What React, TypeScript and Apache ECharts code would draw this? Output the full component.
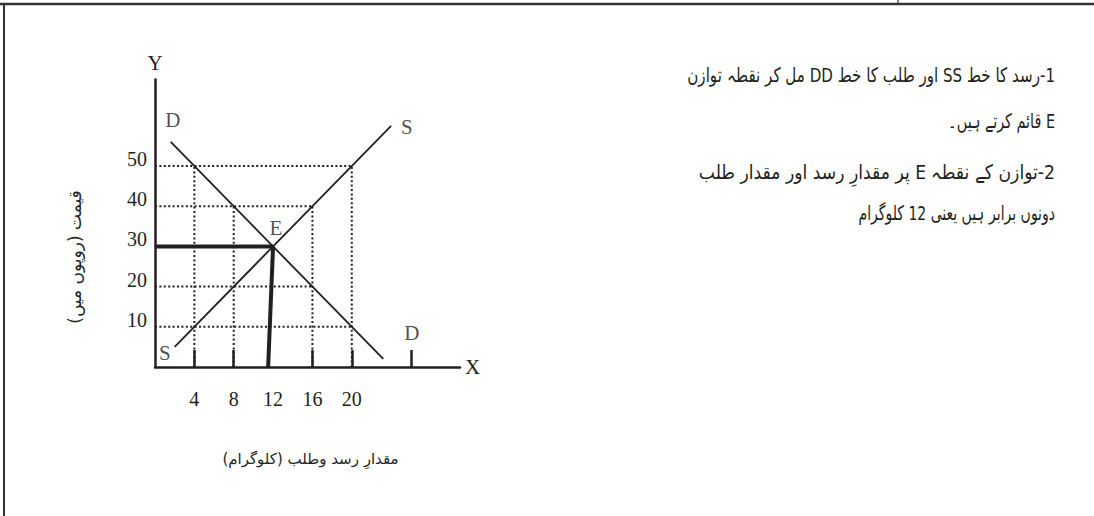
import React, { useEffect, useRef } from 'react';
import * as echarts from 'echarts';

// ---- data ----
const xTickLabels = [4, 8, 12, 16, 20];
const xTickMarks = [4, 8, 16, 20, 26];
const yTickLabels = [10, 20, 30, 40, 50];
const supplyLine = [[2, 5], [24, 60]];
const demandLine = [[1.6, 56], [23.2, 2]];
const priceLine = [[0, 30], [12, 30]];
const quantityLine = [[12, 30], [11.5, 0]];
const dottedSegments = [
  [[0, 50], [20, 50]],
  [[0, 40], [16, 40]],
  [[0, 20], [16, 20]],
  [[0, 10], [20, 10]],
  [[4, 0], [4, 50]],
  [[8, 0], [8, 40]],
  [[16, 0], [16, 40]],
  [[20, 0], [20, 50]],
];
const curveLabels = [
  { name: 'D', value: [1.8, 61.5] },
  { name: 'S', value: [25.6, 59.7] },
  { name: 'S', value: [1.0, 3.5] },
  { name: 'D', value: [26.1, 8.5] },
  { name: 'E', value: [12.3, 34.6] },
];
const notes = [
  '1-رسد کا خط SS اور طلب کا خط DD مل کر نقطہ توازن',
  'E قائم کرتے ہیں۔',
  '2-توازن کے نقطہ E پر مقدارِ رسد اور مقدار طلب',
  'دونوں برابر ہیں یعنی 12 کلوگرام',
];
const xTitle = 'مقدارِ رسد وطلب (کلوگرام)';
const yTitle = 'قیمت (روپوں میں)';

// ---- styles ----
const INK = '#231f20';
const SERIF = "'Liberation Serif', 'DejaVu Serif', serif";
const URDU = "'DejaVu Sans', sans-serif";
const rtl = (s: string) => '\u202B' + s + '\u202C';
const noteY = [75, 121, 172, 213];
const noteScale = [0.755, 0.72, 0.86, 0.7];

export default function App() {
  const ref = useRef<HTMLDivElement>(null);
  useEffect(() => {
    if (!ref.current) return;
    const chart = echarts.init(ref.current, null, { renderer: 'svg' });
    const lineSeries = (data: number[][], width: number, type: any = 'solid') => ({
      type: 'line',
      data,
      symbol: 'none',
      silent: true,
      clip: false,
      lineStyle: { color: INK, width, type },
      z: 3,
    });
    chart.setOption({
      animation: false,
      backgroundColor: '#ffffff',
      grid: { left: 155, top: 79.6, width: 305, height: 287.4 },
      xAxis: [
        {
          type: 'value',
          min: 0,
          max: 31,
          name: rtl(xTitle),
          nameLocation: 'middle',
          nameGap: 84,
          nameTextStyle: { fontFamily: URDU, fontSize: 15, color: INK, padding: [0, 0, 0, 6] },
          axisLine: { show: true, onZero: false, lineStyle: { color: INK, width: 2.5 } },
          axisTick: {
            show: true,
            inside: true,
            length: 17,
            customValues: xTickMarks,
            lineStyle: { color: INK, width: 2.5 },
          },
          axisLabel: {
            show: true,
            customValues: xTickLabels,
            margin: 22,
            fontFamily: SERIF,
            fontSize: 20,
            color: INK,
          },
          splitLine: { show: false },
        },
        {
          type: 'value',
          min: 0,
          max: 31,
          position: 'bottom',
          name: 'X',
          nameLocation: 'end',
          nameGap: 5,
          nameTextStyle: { fontFamily: SERIF, fontSize: 21, color: INK },
          axisLine: { show: false },
          axisTick: { show: false },
          axisLabel: { show: false },
          splitLine: { show: false },
        },
      ],
      yAxis: [
        {
          type: 'value',
          min: 0,
          max: 71.5,
          axisLine: { show: true, onZero: false, lineStyle: { color: INK, width: 2.5 } },
          axisTick: { show: false },
          axisLabel: {
            show: true,
            customValues: yTickLabels,
            margin: 8,
            verticalAlign: 'bottom',
            lineHeight: 14,
            fontFamily: SERIF,
            fontSize: 20,
            color: INK,
          },
          splitLine: { show: false },
        },
        {
          type: 'value',
          min: 0,
          max: 71.5,
          position: 'left',
          name: 'Y',
          nameLocation: 'end',
          nameGap: 6,
          nameTextStyle: { fontFamily: SERIF, fontSize: 21, color: INK },
          axisLine: { show: false },
          axisTick: { show: false },
          axisLabel: { show: false },
          splitLine: { show: false },
        },
      ],
      series: [
        ...dottedSegments.map((seg) => lineSeries(seg, 2, [2, 2.4])),
        lineSeries(supplyLine, 1.8),
        lineSeries(demandLine, 1.8),
        lineSeries(priceLine, 4),
        lineSeries(quantityLine, 4),
        {
          type: 'scatter',
          data: curveLabels,
          symbolSize: 0,
          clip: false,
          silent: true,
          label: {
            show: true,
            position: 'inside',
            formatter: '{b}',
            fontFamily: SERIF,
            fontSize: 21,
            color: INK,
          },
          z: 5,
        },
      ],
      graphic: [
        { type: 'line', shape: { x1: 0, y1: 4, x2: 1094, y2: 4 }, style: { stroke: '#333', lineWidth: 2.5 } },
        { type: 'line', shape: { x1: 4, y1: 4, x2: 4, y2: 516 }, style: { stroke: '#333', lineWidth: 2 } },
        { type: 'line', shape: { x1: 898, y1: 0, x2: 898, y2: 3 }, style: { stroke: '#333', lineWidth: 1.2 } },
        {
          type: 'text',
          x: 75,
          y: 257,
          rotation: Math.PI / 2,
          style: {
            text: rtl(yTitle),
            align: 'center',
            verticalAlign: 'middle',
            fontFamily: URDU,
            fontSize: 17,
            fill: INK,
          },
        },
        ...notes.map((t, i) => ({
          type: 'text',
          x: 1055,
          y: noteY[i],
          scaleX: noteScale[i],
          style: {
            text: rtl(t),
            align: 'right',
            verticalAlign: 'middle',
            fontFamily: URDU,
            fontSize: 20,
            fill: INK,
          },
        })),
      ],
    });
    return () => chart.dispose();
  }, []);
  return (
    <div
      ref={ref}
      style={{ position: 'fixed', left: 0, top: 0, width: 1094, height: 516, background: '#fff' }}
    />
  );
}
